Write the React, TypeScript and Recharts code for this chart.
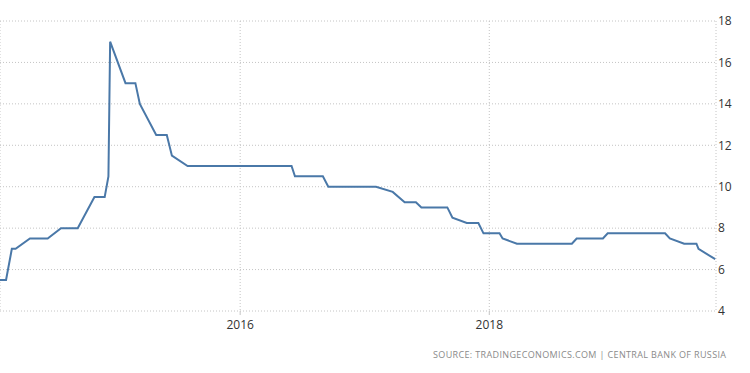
import { CartesianGrid, Line, LineChart, XAxis, YAxis } from "recharts";

// Key rate decision points (date, %).
const DATES = [
  "2014-01-27", "2014-02-14", "2014-03-03", "2014-03-14", "2014-04-25",
  "2014-06-16", "2014-07-25", "2014-09-12", "2014-10-31", "2014-11-30",
  "2014-12-11", "2014-12-16", "2015-01-30", "2015-02-28", "2015-03-13",
  "2015-04-30", "2015-05-31", "2015-06-15", "2015-07-31", "2016-05-31",
  "2016-06-10", "2016-08-31", "2016-09-16", "2017-02-03", "2017-03-24",
  "2017-04-28", "2017-05-31", "2017-06-16", "2017-08-31", "2017-09-15",
  "2017-10-27", "2017-11-30", "2017-12-15", "2018-01-31", "2018-02-09",
  "2018-03-23", "2018-08-31", "2018-09-14", "2018-11-30", "2018-12-14",
  "2019-05-31", "2019-06-14", "2019-07-26", "2019-08-31", "2019-09-06",
  "2019-10-25",
];

const RATES = [
  5.5, 5.5, 7, 7, 7.5,
  7.5, 8, 8, 9.5, 9.5,
  10.5, 17, 15, 15, 14,
  12.5, 12.5, 11.5, 11, 11,
  10.5, 10.5, 10, 10, 9.75,
  9.25, 9.25, 9, 9, 8.5,
  8.25, 8.25, 7.75, 7.75, 7.5,
  7.25, 7.25, 7.5, 7.5, 7.75,
  7.75, 7.5, 7.25, 7.25, 7,
  6.5,
];

const X_TICKS = [2016, 2018];
const Y_TICKS = [4, 6, 8, 10, 12, 14, 16, 18];
const SOURCE = "SOURCE: TRADINGECONOMICS.COM | CENTRAL BANK OF RUSSIA";

// date string -> fractional year
function toYear(d: string) {
  const [y, m, day] = d.split("-").map(Number);
  const start = Date.UTC(y, 0, 1);
  const end = Date.UTC(y + 1, 0, 1);
  return y + (Date.UTC(y, m - 1, day) - start) / (end - start);
}

const data = DATES.map((d, i) => ({ t: toYear(d), rate: RATES[i] }));

const FONT = "'Open Sans', 'DejaVu Sans', sans-serif";

export default function App() {
  return (
    <div style={{ position: "absolute", left: 0, top: 0, width: 750, height: 373, background: "#fff" }}>
      <LineChart
        width={750}
        height={373}
        data={data}
        margin={{ top: 21, right: 0, bottom: 32, left: 0 }}
      >
        <CartesianGrid stroke="#c4c4c4" strokeDasharray="1 2" />
        <XAxis
          dataKey="t"
          type="number"
          domain={[2014.072, 2019.82]}
          ticks={X_TICKS}
          height={30}
          axisLine={false}
          tickLine={{ stroke: "#c4c4c4" }}
          tickSize={4}
          tickMargin={5}
          tick={{ fill: "#333", fontSize: 12, fontFamily: FONT }}
          allowDataOverflow
        />
        <YAxis
          orientation="right"
          type="number"
          domain={[4, 18]}
          ticks={Y_TICKS}
          width={34}
          axisLine={false}
          tickLine={false}
          tickSize={0}
          tickMargin={2}
          tick={{ fill: "#333", fontSize: 12, fontFamily: FONT, textAnchor: "start" }}
        />
        <Line
          type="linear"
          dataKey="rate"
          stroke="#4a78a8"
          strokeWidth={2}
          dot={false}
          isAnimationActive={false}
        />
      </LineChart>
      <svg width={750} height={373} style={{ position: "absolute", left: 0, top: 0, pointerEvents: "none" }}>
        <text
          x={433}
          y={358}
          textLength={293}
          lengthAdjust="spacing"
          fontSize={9}
          fontFamily={FONT}
          fill="#8a8a8a"
        >
          {SOURCE}
        </text>
      </svg>
    </div>
  );
}
